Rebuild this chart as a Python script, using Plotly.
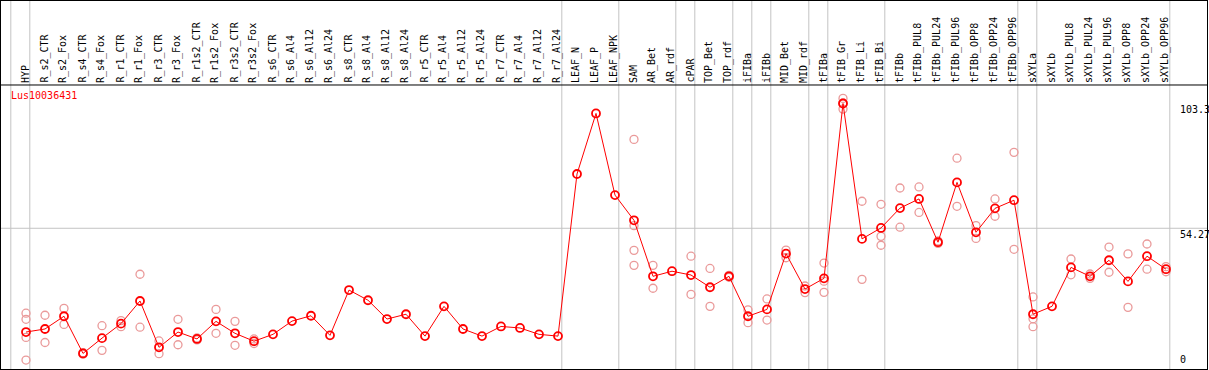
import plotly.graph_objects as go

gene = "Lus10036431"

categories = [
    "HYP", "R_s2_CTR", "R_s2_Fox", "R_s4_CTR", "R_s4_Fox", "R_r1_CTR", "R_r1_Fox",
    "R_r3_CTR", "R_r3_Fox", "R_r1s2_CTR", "R_r1s2_Fox", "R_r3s2_CTR", "R_r3s2_Fox",
    "R_s6_CTR", "R_s6_Al4", "R_s6_Al12", "R_s6_Al24", "R_s8_CTR", "R_s8_Al4",
    "R_s8_Al12", "R_s8_Al24", "R_r5_CTR", "R_r5_Al4", "R_r5_Al12", "R_r5_Al24",
    "R_r7_CTR", "R_r7_Al4", "R_r7_Al12", "R_r7_Al24", "LEAF_N", "LEAF_P", "LEAF_NPK",
    "SAM", "AR_Bet", "AR_rdf", "cPAR", "TOP_Bet", "TOP_rdf", "iFIBa", "iFIBb",
    "MID_Bet", "MID_rdf", "tFIBa", "tFIB_Gr", "tFIB_Li", "tFIB_Bi", "tFIBb",
    "tFIBb_PUL8", "tFIBb_PUL24", "tFIBb_PUL96", "tFIBb_OPP8", "tFIBb_OPP24",
    "tFIBb_OPP96", "sXYLa", "sXYLb", "sXYLb_PUL8", "sXYLb_PUL24", "sXYLb_PUL96",
    "sXYLb_OPP8", "sXYLb_OPP24", "sXYLb_OPP96",
]

means = [
    13.5, 14.7, 19.7, 5.1, 11.1, 16.8, 25.7, 7.5, 13.5, 10.8, 17.7, 13.0, 9.9,
    12.6, 17.8, 19.9, 12.2, 30.0, 26.0, 18.6, 20.5, 11.9, 23.6, 14.7, 11.9,
    15.7, 15.1, 12.6, 11.9, 75.6, 99.4, 67.3,
    57.4, 35.4, 37.4, 35.9, 31.1, 35.4, 19.7, 22.4, 44.3, 30.4, 34.6, 103.3,
    50.1, 54.4, 62.2, 65.8, 48.8, 72.3, 52.7, 62.1, 65.3,
    20.5, 23.6, 38.9, 35.4, 41.7, 33.4, 43.3, 38.2,
]

replicates = [
    [20.9, 18.5, 11.4, 2.5], [20.1, 9.4], [22.8, 16.5], [5.4, 4.8], [16.0, 6.3],
    [18.0, 15.6], [36.2, 15.4], [10.0, 5.0], [18.5, 8.5], [11.2, 10.4],
    [22.4, 13.0], [17.7, 8.3], [10.8, 9.0],
    [], [], [], [], [], [], [], [], [], [], [], [], [], [], [], [],
    [], [], [],
    [89.2, 55.3, 45.6, 39.7], [39.7, 30.7], [], [43.3, 28.3], [38.5, 23.6],
    [35.0, 35.8], [22.2, 17.2], [26.5, 18.2], [45.7, 42.7], [31.6, 29.0],
    [40.6, 33.5, 29.1], [105.3, 101.1, 103.5], [64.9, 34.2], [63.7, 51.1, 47.6],
    [70.1, 54.7], [70.5, 60.5], [49.3, 48.3], [81.8, 62.9], [55.3, 50.3],
    [65.8, 59.0], [84.1, 46.0],
    [27.3, 18.7, 15.6], [], [42.2, 36.0], [36.3, 34.6], [46.9, 37.0],
    [44.2, 23.2], [48.1, 38.2], [39.2, 37.2],
]

# index of last category in each group (group separators)
group_ends = [-1, 0, 28, 31, 34, 35, 37, 38, 39, 41, 42, 45, 52, 53, 60]
axis_ticks = [103.3, 54.27, 0]

idx = list(range(len(categories)))
rep_x = [i for i, reps in enumerate(replicates) for _ in reps]
rep_y = [v for reps in replicates for v in reps]

FONT = "DejaVu Sans Mono"
fig = go.Figure()

fig.add_trace(go.Scatter(
    x=rep_x, y=rep_y, mode="markers",
    marker=dict(symbol="circle-open", size=8, color="#ea9a9a", line=dict(width=1.3)),
    hoverinfo="skip", showlegend=False,
))
fig.add_trace(go.Scatter(
    x=idx, y=means, mode="lines+markers",
    line=dict(color="#ff0000", width=1),
    marker=dict(symbol="circle-open", size=8, color="#ff0000", line=dict(width=1.8)),
    text=categories, showlegend=False,
))

XMIN, XMAX = -1.316, 62.158
YMIN, YMAX = -1.02, 143.57
LABEL_BASE = 110.96
DIVIDER = 110.57

shapes = []
for g in group_ends:
    shapes.append(dict(type="line", xref="x", yref="y", x0=g + 0.2, x1=g + 0.2,
                       y0=YMIN, y1=YMAX, line=dict(color="#c4c4c4", width=1), layer="below"))
shapes.append(dict(type="line", xref="paper", yref="y", x0=0, x1=1, y0=54.27, y1=54.27,
                   line=dict(color="#c4c4c4", width=1), layer="below"))
shapes.append(dict(type="line", xref="paper", yref="y", x0=0, x1=1, y0=DIVIDER, y1=DIVIDER,
                   line=dict(color="#000000", width=1), layer="above"))

annotations = []
for i, c in enumerate(categories):
    annotations.append(dict(x=i - 0.05, y=LABEL_BASE, xref="x", yref="y", text=c,
                            textangle=-90, showarrow=False, xanchor="center",
                            yanchor="bottom", borderpad=0,
                            font=dict(family=FONT, size=10, color="#000000")))
for v in axis_ticks:
    annotations.append(dict(x=60.68, y=v, xref="x", yref="y", text=f"{v:g}",
                            showarrow=False, xanchor="left",
                            yanchor="bottom" if v == 0 else "top", borderpad=0,
                            font=dict(family=FONT, size=10, color="#000000")))
annotations.append(dict(x=-0.85, y=108.9, xref="x", yref="y", text=gene, showarrow=False,
                        xanchor="left", yanchor="top", borderpad=0,
                        font=dict(family=FONT, size=10, color="#ff0000")))

fig.update_layout(
    width=1209, height=370,
    margin=dict(l=1, r=2, t=1, b=1),
    paper_bgcolor="#ffffff", plot_bgcolor="#ffffff",
    shapes=shapes, annotations=annotations,
    xaxis=dict(range=[XMIN, XMAX], showgrid=False, zeroline=False, showticklabels=False,
               ticks="", showline=True, mirror=True, linecolor="#000000", linewidth=1),
    yaxis=dict(range=[YMIN, YMAX], showgrid=False, zeroline=False, showticklabels=False,
               ticks="", showline=True, mirror=True, linecolor="#000000", linewidth=1),
)

fig.write_html(
    "out.html",
    config={"displayModeBar": False},
    post_script="document.body.style.margin='0';document.body.style.padding='0';",
)
